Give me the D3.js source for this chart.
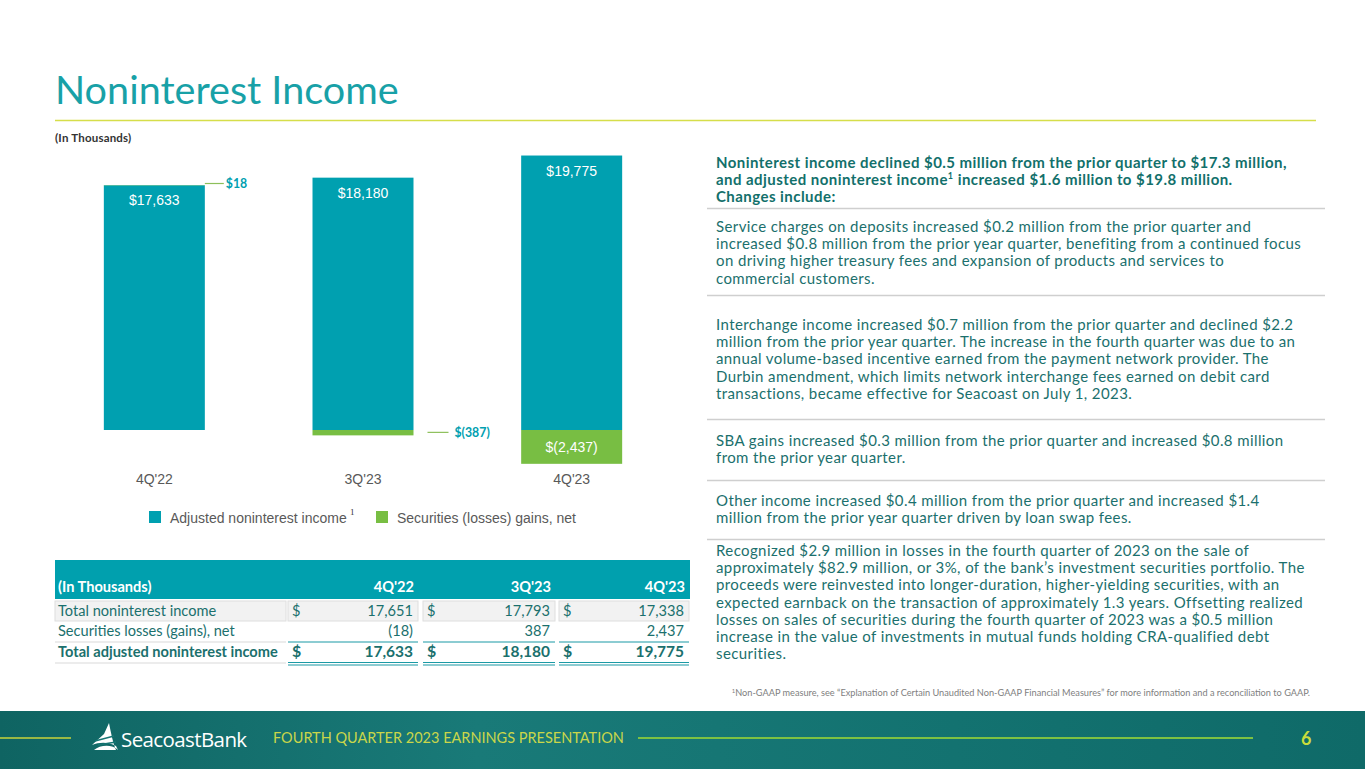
<!DOCTYPE html>
<html><head><meta charset="utf-8">
<script src="https://cdn.jsdelivr.net/npm/d3@7"></script>
<style>body{margin:0;background:#fff}svg{display:block}</style>
</head><body>
<svg id="c" width="1365" height="769"></svg>
<script>
// ---------- data ----------
const categories = ["4Q'22", "3Q'23", "4Q'23"];
const adjustedIncome = [17633, 18180, 19775];
const securitiesGainsLosses = [18, -387, -2437];
const seriesNames = ["Adjusted noninterest income", "Securities (losses) gains, net"];

const tableCols = ["4Q'22", "3Q'23", "4Q'23"];
const totalNoninterest = [17651, 17793, 17338];
const securitiesLossesNet = [-18, 387, 2437];
const totalAdjusted = [17633, 18180, 19775];

const headingLines = [
  "Noninterest income declined $0.5 million from the prior quarter to $17.3 million,",
  ["and adjusted noninterest income", "1", " increased $1.6 million to $19.8 million."],
  "Changes include:"
];
const paragraphs = [
  ["Service charges on deposits increased $0.2 million from the prior quarter and",
   "increased $0.8 million from the prior year quarter, benefiting from a continued focus",
   "on driving higher treasury fees and expansion of products and services to",
   "commercial customers."],
  ["Interchange income increased $0.7 million from the prior quarter and declined $2.2",
   "million from the prior year quarter. The increase in the fourth quarter was due to an",
   "annual volume-based incentive earned from the payment network provider. The",
   "Durbin amendment, which limits network interchange fees earned on debit card",
   "transactions, became effective for Seacoast on July 1, 2023."],
  ["SBA gains increased $0.3 million from the prior quarter and increased $0.8 million",
   "from the prior year quarter."],
  ["Other income increased $0.4 million from the prior quarter and increased $1.4",
   "million from the prior year quarter driven by loan swap fees."],
  ["Recognized $2.9 million in losses in the fourth quarter of 2023 on the sale of",
   "approximately $82.9 million, or 3%, of the bank\u2019s investment securities portfolio. The",
   "proceeds were reinvested into longer-duration, higher-yielding securities, with an",
   "expected earnback on the transaction of approximately 1.3 years. Offsetting realized",
   "losses on sales of securities during the fourth quarter of 2023 was a $0.5 million",
   "increase in the value of investments in mutual funds holding CRA-qualified debt",
   "securities."]
];

// ---------- styles ----------
const TEAL = "#00A0B0", GREEN = "#78BE43", TXT = "#1b706d", GRAY = "#595959";
const CAL = "Lato, 'Open Sans', sans-serif";
const ARIAL = "'Liberation Sans', Arial, sans-serif";

const svg = d3.select("#c");

// Title
svg.append("text").attr("x", 55).attr("y", 104).attr("font-family", CAL)
  .attr("font-size", 39.6).attr("fill", "#18A1A7").text("Noninterest Income");
svg.append("line").attr("x1", 55).attr("x2", 1316).attr("y1", 120.5).attr("y2", 120.5)
  .attr("stroke", "#D6DE4A").attr("stroke-width", 1.5);
svg.append("text").attr("x", 55).attr("y", 142).attr("font-family", CAL)
  .attr("font-size", 11.5).attr("letter-spacing", 0.2).attr("font-weight", 700).attr("fill", "#333").text("(In Thousands)");

// ---------- chart ----------
const k = 0.01388;
const y = d3.scaleLinear().domain([-3000, 21000]).range([430 + 3000 * k, 430 - 21000 * k]);
const x = d3.scaleBand().domain(categories).range([50, 676]).paddingInner(0.516).paddingOuter(0.258);
const fmt = d3.format(",");
const money = v => v < 0 ? "$(" + fmt(-v) + ")" : "$" + fmt(v);

const g = svg.append("g");
g.selectAll("rect.adj").data(categories).join("rect").attr("class", "adj")
  .attr("x", d => x(d)).attr("width", x.bandwidth())
  .attr("y", (d, i) => y(adjustedIncome[i]))
  .attr("height", (d, i) => y(0) - y(adjustedIncome[i]))
  .attr("fill", TEAL);
g.selectAll("rect.sec").data(categories).join("rect").attr("class", "sec")
  .attr("x", d => x(d)).attr("width", x.bandwidth())
  .attr("y", (d, i) => securitiesGainsLosses[i] >= 0 ? y(adjustedIncome[i] + securitiesGainsLosses[i]) : y(0))
  .attr("height", (d, i) => securitiesGainsLosses[i] >= 0
     ? y(adjustedIncome[i]) - y(adjustedIncome[i] + securitiesGainsLosses[i])
     : y(securitiesGainsLosses[i]) - y(0))
  .attr("fill", GREEN);

g.selectAll("text.adjl").data(categories).join("text").attr("class", "adjl")
  .attr("x", d => x(d) + x.bandwidth() / 2)
  .attr("y", (d, i) => y(adjustedIncome[i]) + 20)
  .attr("text-anchor", "middle").attr("font-family", ARIAL).attr("font-size", 14)
  .attr("fill", "#fff").text((d, i) => money(adjustedIncome[i]));

categories.forEach((c, i) => {
  const v = securitiesGainsLosses[i];
  const h = Math.abs(y(v) - y(0));
  if (h > 20) {
    g.append("text").attr("x", x(c) + x.bandwidth() / 2).attr("y", y(0) + h / 2 + 5)
      .attr("text-anchor", "middle").attr("font-family", ARIAL).attr("font-size", 14)
      .attr("fill", "#fff").text(money(v));
  } else {
    const right = x(c) + x.bandwidth();
    let ly, x1, x2, gap;
    if (v >= 0) { ly = y(adjustedIncome[i] + v) - 1.5; x1 = right; x2 = right + 19; gap = 2; }
    else { ly = y(v) - 3; x1 = right + 14; x2 = right + 35; gap = 6; }
    g.append("line").attr("x1", x1).attr("x2", x2).attr("y1", ly).attr("y2", ly)
      .attr("stroke", "#8DBF5A").attr("stroke-width", 1.2);
    g.append("text").attr("x", x2 + gap).attr("y", ly + 4.5).attr("font-family", CAL)
      .attr("font-size", 12.3).attr("font-weight", 700).attr("fill", TEAL).text(money(v));
  }
});

const xAxis = g.append("g").attr("transform", "translate(0,466)")
  .call(d3.axisBottom(x).tickSize(0).tickPadding(8));
xAxis.select(".domain").remove();
xAxis.selectAll("text").attr("font-family", ARIAL).attr("font-size", 14).attr("fill", GRAY);

const legendX = [149, 376];
const legendColors = [TEAL, GREEN];
seriesNames.forEach((n, i) => {
  g.append("rect").attr("x", legendX[i]).attr("y", 511).attr("width", 12).attr("height", 12).attr("fill", legendColors[i]);
  g.append("text").attr("x", legendX[i] + 21).attr("y", 523).attr("font-family", ARIAL)
    .attr("font-size", 14).attr("fill", GRAY).text(n);
  if (i === 0) g.append("text").attr("x", 350).attr("y", 515).attr("font-family", "'Liberation Serif', serif")
    .attr("font-size", 9).attr("fill", "#333").text("1");
});

// ---------- table ----------
const tg = svg.append("g").attr("font-family", CAL);
const TFS = 14.6;
const colX = [[288, 418], [423, 555], [559, 689]];
tg.append("rect").attr("x", 55).attr("y", 560).attr("width", 635).attr("height", 39).attr("fill", "#00A0AE");
tg.append("text").attr("x", 58).attr("y", 592).attr("font-size", TFS).attr("font-weight", 700)
  .attr("fill", "#fff").text("(In Thousands)");
tableCols.forEach((c, i) => tg.append("text").attr("x", colX[i][1] - 4).attr("y", 592)
  .attr("text-anchor", "end").attr("font-size", TFS).attr("font-weight", 700).attr("fill", "#fff").text(c));

const pfmt = v => v < 0 ? "(" + fmt(-v) + ")" : fmt(v);
const rows = [
  {label: "Total noninterest income", vals: totalNoninterest, y0: 601, y1: 621, dollar: true, bold: false, fill: "#F2F2F2"},
  {label: "Securities losses (gains), net", vals: securitiesLossesNet, y0: 622, y1: 641, dollar: false, bold: false, fill: null},
  {label: "Total adjusted noninterest income", vals: totalAdjusted, y0: 642, y1: 662, dollar: true, bold: true, fill: null}
];
rows.forEach(r => {
  const ty = r.y1 - 5;
  if (r.fill) {
    tg.append("rect").attr("x", 55).attr("y", r.y0).attr("width", 231).attr("height", r.y1 - r.y0)
      .attr("fill", r.fill).attr("stroke", "#dedede").attr("stroke-width", 1);
    colX.forEach(c => tg.append("rect").attr("x", c[0]).attr("y", r.y0).attr("width", c[1] - c[0]).attr("height", r.y1 - r.y0)
      .attr("fill", r.fill).attr("stroke", "#dedede").attr("stroke-width", 1));
  }
  if (r.bold) {
    tg.append("line").attr("x1", 55).attr("x2", 286).attr("y1", r.y0).attr("y2", r.y0).attr("stroke", "#d9d9d9");
    tg.append("line").attr("x1", 55).attr("x2", 286).attr("y1", r.y1 + 1).attr("y2", r.y1 + 1).attr("stroke", "#d9d9d9");
    colX.forEach(c => {
      tg.append("line").attr("x1", c[0]).attr("x2", c[1]).attr("y1", r.y0).attr("y2", r.y0).attr("stroke", "#1b9aa5").attr("stroke-width", 1.2);
      tg.append("line").attr("x1", c[0]).attr("x2", c[1]).attr("y1", r.y1 + 0.5).attr("y2", r.y1 + 0.5).attr("stroke", "#1b9aa5").attr("stroke-width", 1.2);
      tg.append("line").attr("x1", c[0]).attr("x2", c[1]).attr("y1", r.y1 + 3).attr("y2", r.y1 + 3).attr("stroke", "#1b9aa5").attr("stroke-width", 1.2);
    });
  }
  tg.append("text").attr("x", 58).attr("y", ty).attr("font-size", TFS)
    .attr("font-weight", r.bold ? 700 : 400).attr("fill", TXT).text(r.label);
  r.vals.forEach((v, i) => {
    if (r.dollar) tg.append("text").attr("x", colX[i][0] + 4).attr("y", ty).attr("font-size", r.bold ? 16 : TFS)
      .attr("font-weight", r.bold ? 700 : 400).attr("fill", TXT).text("$");
    tg.append("text").attr("x", colX[i][1] - 5).attr("y", ty).attr("text-anchor", "end")
      .attr("font-size", r.bold ? 15.5 : TFS).attr("font-weight", r.bold ? 700 : 400).attr("fill", TXT).text(pfmt(v));
  });
});

// ---------- right-hand text ----------
const rg = svg.append("g").attr("font-family", CAL).attr("fill", TXT);
const FS = 15, LH = 17.2;
const headY = [168, 185, 202];
headingLines.forEach((l, i) => {
  const t = rg.append("text").attr("x", 716).attr("y", headY[i]).attr("font-size", FS)
    .attr("letter-spacing", 0.45).attr("font-weight", 700).attr("fill", "#12706b");
  if (Array.isArray(l)) {
    t.append("tspan").text(l[0]);
    t.append("tspan").attr("font-size", 9).attr("dy", -6).text(l[1]);
    t.append("tspan").attr("dy", 6).text(l[2]);
  } else t.text(l);
});
const sepY = [208.5, 295.5, 419.5, 480.5, 539.5];
sepY.forEach(s => rg.append("line").attr("x1", 707).attr("x2", 1325).attr("y1", s).attr("y2", s)
  .attr("stroke", "#cfcfcf").attr("stroke-width", 1.5));
const paraY = [232, 330, 446, 506, 556];
paragraphs.forEach((p, pi) => p.forEach((l, li) =>
  rg.append("text").attr("x", 716).attr("y", paraY[pi] + li * LH).attr("font-size", FS)
    .attr("letter-spacing", 0.4).text(l)));

// footnote
const fn = svg.append("text").attr("x", 1310).attr("y", 696).attr("text-anchor", "end")
  .attr("font-family", CAL).attr("font-size", 9.2).attr("fill", "#808080");
fn.append("tspan").attr("font-size", 6).attr("dy", -3).text("1");
fn.append("tspan").attr("dy", 3).text("Non-GAAP measure, see \u201cExplanation of Certain Unaudited Non-GAAP Financial Measures\u201d for more information and a reconciliation to GAAP.");

// ---------- footer ----------
const defs = svg.append("defs");
const grad = defs.append("linearGradient").attr("id", "fg").attr("x1", 0).attr("x2", 1).attr("y1", 0).attr("y2", 0);
grad.append("stop").attr("offset", 0).attr("stop-color", "#0f6462");
grad.append("stop").attr("offset", 0.35).attr("stop-color", "#197a78");
grad.append("stop").attr("offset", 0.7).attr("stop-color", "#137270");
grad.append("stop").attr("offset", 1).attr("stop-color", "#0f6a68");
svg.append("rect").attr("x", 0).attr("y", 711).attr("width", 1365).attr("height", 58).attr("fill", "url(#fg)");
svg.append("line").attr("x1", 0).attr("x2", 71).attr("y1", 738).attr("y2", 738).attr("stroke", "#C8D43A").attr("stroke-width", 1.5);
svg.append("line").attr("x1", 638).attr("x2", 1253).attr("y1", 738).attr("y2", 738).attr("stroke", "#7DC242").attr("stroke-width", 2);
svg.append("path").attr("d", "M109,723 L104,734 L92,745 C100,742 108,742 116,746 L118,750 C112,744 100,745 94,750 L116,750 C113,743 111,733 109,723 Z")
  .attr("fill", "#fff");
svg.append("path").attr("d", "M95,741 L114,736 M98,745 L116,742").attr("stroke", "#167674").attr("stroke-width", 1.4);
svg.append("text").attr("x", 121).attr("y", 747).attr("font-family", "'Open Sans', sans-serif").attr("font-size", 20.5)
  .attr("fill", "#fff").attr("letter-spacing", -0.6).text("SeacoastBank");
svg.append("text").attr("x", 273).attr("y", 743).attr("font-family", CAL).attr("font-size", 14.5)
  .attr("fill", "#C9D64A").text("FOURTH QUARTER 2023 EARNINGS PRESENTATION");
svg.append("text").attr("x", 1301).attr("y", 745).attr("font-family", CAL).attr("font-size", 18)
  .attr("font-weight", 700).attr("fill", "#C9DC3C").text("6");
</script>
</body></html>
